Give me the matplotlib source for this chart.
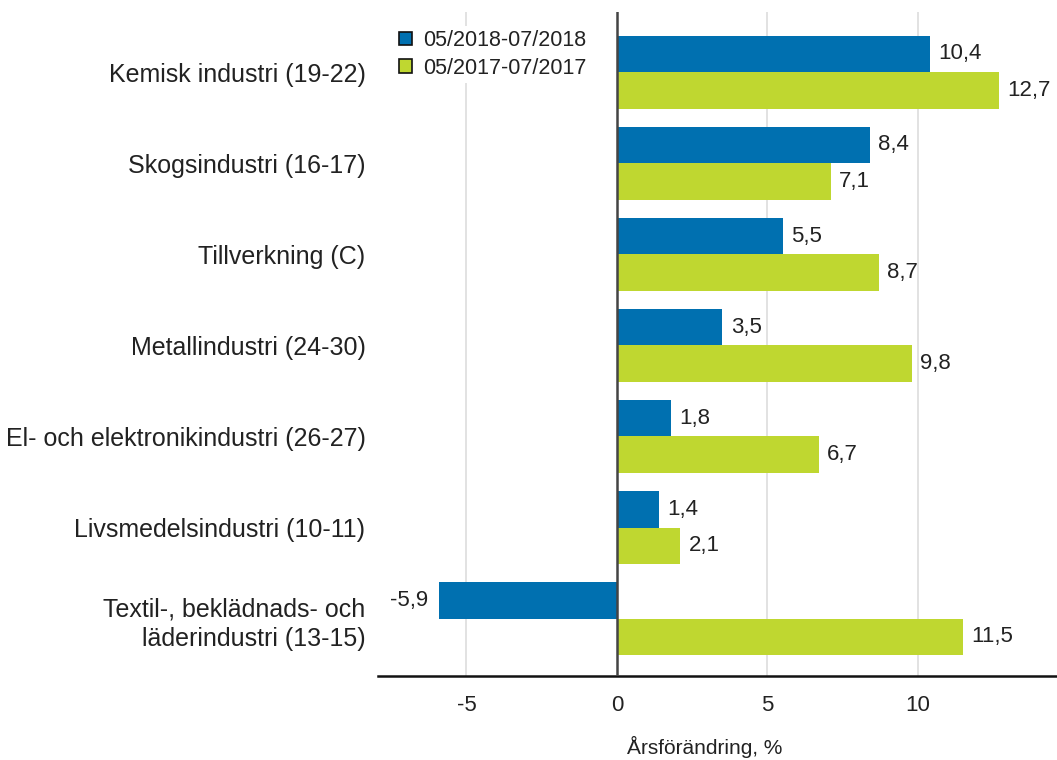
import numpy as np
import matplotlib
matplotlib.use('Agg')
import matplotlib.pyplot as plt
from matplotlib.patches import Patch

plt.rcParams['font.family'] = ['Liberation Sans', 'DejaVu Sans']

# data
categories = ['Kemisk industri (19-22)', 'Skogsindustri (16-17)', 'Tillverkning (C)',
              'Metallindustri (24-30)', 'El- och elektronikindustri (26-27)',
              'Livsmedelsindustri (10-11)', 'Textil-, beklädnads- och\nläderindustri (13-15)']
values_2018 = [10.4, 8.4, 5.5, 3.5, 1.8, 1.4, -5.9]
values_2017 = [12.7, 7.1, 8.7, 9.8, 6.7, 2.1, 11.5]
series_names = ['05/2018-07/2018', '05/2017-07/2017']
x_ticks = [-5, 0, 5, 10]

blue = '#0070b0'
green = '#bfd730'
txt = '#222222'

fig = plt.figure(figsize=(10.57, 7.6), dpi=100)
ax = fig.add_axes([378 / 1057, 1 - 676 / 760, 1 - 378 / 1057, (676 - 12) / 760])

y = np.arange(len(categories))
h = 0.4
ax.barh(y - h / 2, values_2018, height=h, color=blue, zorder=3)
ax.barh(y + h / 2, values_2017, height=h, color=green, zorder=3)

# value labels, comma as decimal sign
def fmt(v):
    return f'{v:.1f}'.replace('.', ',')

for ys, vals in [(y - h / 2, values_2018), (y + h / 2, values_2017)]:
    for yi, v in zip(ys, vals):
        ax.annotate(fmt(v), (v, yi), xytext=(6 if v >= 0 else -8, 0), textcoords='offset points',
                    ha='left' if v >= 0 else 'right', va='center', fontsize=16, color=txt)

ax.set_xlim(-7.94, 14.62)
ax.set_ylim(6.63, -0.66)
ax.set_yticks(y)
ax.set_yticklabels(categories, fontsize=18, color=txt)
ax.get_yticklabels()[-1].set_linespacing(1.3)
ax.set_xticks(x_ticks)
ax.set_xticklabels([str(t) for t in x_ticks], fontsize=16, color=txt)
ax.tick_params(axis='y', length=0, pad=9)
ax.tick_params(axis='x', length=0, pad=14)
ax.set_xlabel('Årsförändring, %', fontsize=15, color=txt)
ax.xaxis.set_label_coords((705 - 378) / 679, -0.09)

# grid and spines
for t in [-5, 5, 10]:
    ax.axvline(t, color='#dddddd', linewidth=1.2, zorder=1)
ax.axvline(0, color='#444444', linewidth=1.8, zorder=4)
for s in ['top', 'right', 'left']:
    ax.spines[s].set_visible(False)
ax.spines['bottom'].set_color('#111111')
ax.spines['bottom'].set_linewidth(1.8)

handles = [Patch(facecolor=blue, edgecolor='#111111', linewidth=1.2),
           Patch(facecolor=green, edgecolor='#111111', linewidth=1.2)]
leg = ax.legend(handles, series_names, loc='upper left', bbox_to_anchor=(384 / 1057, 1 - 15 / 760),
                bbox_transform=fig.transFigure, frameon=True, fontsize=15.5,
                handlelength=0.6, handleheight=0.6, handletextpad=0.5,
                labelspacing=0.3, borderpad=0.2, labelcolor=txt)
leg.get_frame().set_facecolor('white')
leg.get_frame().set_edgecolor('none')
leg.get_frame().set_alpha(1)
leg.set_zorder(5)

fig.savefig('out.png', dpi=100, facecolor='white')
